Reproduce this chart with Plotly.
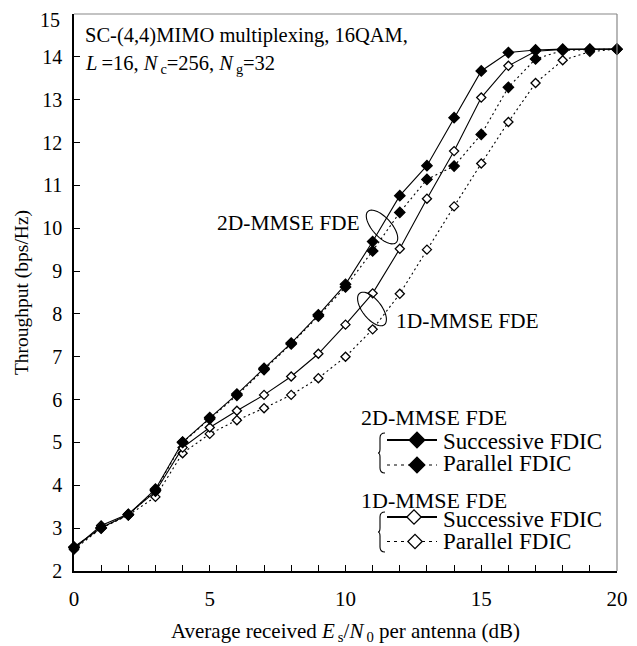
import numpy as np
import plotly.graph_objects as go

# ---------------- data ----------------
snr_db = list(range(0, 21))
thr_2d_successive = [2.56, 3.01, 3.32, 3.91, 5.01, 5.58, 6.13, 6.73, 7.32, 7.98, 8.69,
                     9.69, 10.76, 11.46, 12.58, 13.67, 14.10, 14.16, 14.18, 14.18, 14.18]
thr_2d_parallel = [2.55, 3.00, 3.31, 3.88, 5.00, 5.55, 6.10, 6.70, 7.30, 7.95, 8.63,
                   9.47, 10.37, 11.14, 11.45, 12.19, 13.29, 13.95, 14.15, 14.17, 14.18]
thr_1d_successive = [2.52, 3.06, 3.33, 3.85, 4.88, 5.35, 5.74, 6.11, 6.54, 7.07, 7.75,
                     8.48, 9.52, 10.69, 11.80, 13.05, 13.79, 14.13, 14.17, 14.18, 14.18]
thr_1d_parallel = [2.50, 3.00, 3.30, 3.73, 4.75, 5.20, 5.52, 5.80, 6.11, 6.50, 7.00,
                   7.64, 8.47, 9.50, 10.51, 11.51, 12.48, 13.39, 13.92, 14.12, 14.18]
x_ticks = [0, 5, 10, 15, 20]
y_ticks = list(range(2, 15))
y_top_tick = 15

FONT = "Liberation Serif"
OFF = 8  # page body margin of the HTML page
W, H = 637 - OFF, 646 - OFF
PX_L, PX_R, PX_T, PX_B = 74, 617, 14, 571  # plot area on the page
L, R, T, B = PX_L - OFF, 637 - PX_R, PX_T - OFF, 646 - PX_B


def to_paper(px, py):
    return (px - PX_L) / (PX_R - PX_L), (PX_B - py) / (PX_B - PX_T)


fig = go.Figure()

series = [
    (thr_1d_parallel, "1D Parallel", "white", "2px,3px", 7),
    (thr_1d_successive, "1D Successive", "white", "solid", 7),
    (thr_2d_parallel, "2D Parallel", "black", "2px,3px", 8),
    (thr_2d_successive, "2D Successive", "black", "solid", 8),
]
for ys, name, fill, dash, sz in series:
    fig.add_trace(go.Scatter(
        x=snr_db, y=ys, name=name, mode="lines+markers",
        line=dict(color="black", width=1.1, dash=dash),
        marker=dict(symbol="diamond", size=sz, color=fill,
                    line=dict(color="black", width=1.3)),
        cliponaxis=False, showlegend=False))

# legend samples (drawn on a page-pixel overlay axis)
leg_rows = [
    (440, "solid", "black", 417),
    (465, "3px,4px", "black", 417),
    (517, "solid", "white", 414),
    (541.5, "3px,4px", "white", 415),
]
for yy, dash, fill, mx in leg_rows:
    fig.add_trace(go.Scatter(
        x=[387, 437], y=[yy, yy], xaxis="x2", yaxis="y2", mode="lines",
        line=dict(color="black", width=1.8 if dash == "solid" else 1.2, dash=dash),
        showlegend=False, hoverinfo="skip"))
    fig.add_trace(go.Scatter(
        x=[mx], y=[yy], xaxis="x2", yaxis="y2", mode="markers",
        marker=dict(symbol="diamond", size=12 if fill == "black" else 11, color=fill,
                    line=dict(color="black", width=1.3)),
        showlegend=False, hoverinfo="skip"))

shapes = []
shapes.append(dict(type="line", xref="paper", yref="paper", x0=0, x1=1, y0=1, y1=1,
                   line=dict(color="#888", width=1.2)))
shapes.append(dict(type="line", xref="paper", yref="paper", x0=1, x1=1, y0=0, y1=1,
                   line=dict(color="#888", width=1.2)))


def ellipse_path(cx, cy, a, b, ang_deg, n=60):
    t = np.linspace(0, 2 * np.pi, n)
    ang = np.deg2rad(ang_deg)
    xs = cx + a * np.cos(t) * np.cos(ang) - b * np.sin(t) * np.sin(ang)
    ys = cy + a * np.cos(t) * np.sin(ang) + b * np.sin(t) * np.cos(ang)
    return "M " + " L ".join(f"{x:.2f},{y:.2f}" for x, y in zip(xs, ys)) + " Z"


shapes.append(dict(type="path", xref="x2", yref="y2", path=ellipse_path(382, 227, 21, 9.5, 48),
                   line=dict(color="black", width=1.1)))
shapes.append(dict(type="path", xref="x2", yref="y2", path=ellipse_path(372, 309, 20, 9.5, 52),
                   line=dict(color="black", width=1.1)))


def brace_path(x, y0, y1, ytip, w=7):
    xm = x - w + 2
    return (f"M {x},{y0} Q {xm},{y0} {xm},{y0+5} L {xm},{ytip-4} Q {xm},{ytip} {x-w},{ytip} "
            f"Q {xm},{ytip} {xm},{ytip+4} L {xm},{y1-5} Q {xm},{y1} {x},{y1}")


shapes.append(dict(type="path", xref="x2", yref="y2", path=brace_path(385, 433, 473, 453),
                   line=dict(color="black", width=1.1)))
shapes.append(dict(type="path", xref="x2", yref="y2", path=brace_path(385, 512, 552, 532),
                   line=dict(color="black", width=1.1)))

TS = "\u2009"
annotations = [
    dict(x=83, y=36, text="SC-(4,4)MIMO multiplexing, 16QAM,", xanchor="left", yanchor="middle",
         font=dict(size=20.5)),
    dict(x=83, y=64,
         text=f"<i>L</i>{TS}=16, <i>N</i><sub>{TS}c</sub>=256, <i>N</i><sub>{TS}g</sub>=32",
         xanchor="left", yanchor="middle", font=dict(size=20.5)),
    dict(x=362, y=223, text="2D-MMSE FDE", xanchor="right", yanchor="middle", font=dict(size=21.5)),
    dict(x=394, y=321, text="1D-MMSE FDE", xanchor="left", yanchor="middle", font=dict(size=21.5)),
    dict(x=359, y=418, text="2D-MMSE FDE", xanchor="left", yanchor="middle", font=dict(size=22)),
    dict(x=359, y=500, text="1D-MMSE FDE", xanchor="left", yanchor="middle", font=dict(size=22)),
    dict(x=61, y=19.5, text=str(y_top_tick), xanchor="right", yanchor="middle", font=dict(size=20),
         borderpad=0),
]
for yy, txt in [(441, "Successive FDIC"), (463, "Parallel FDIC"),
                (519, "Successive FDIC"), (541, "Parallel FDIC")]:
    annotations.append(dict(x=441, y=yy, text=txt, xanchor="left", yanchor="middle",
                            font=dict(size=23)))
for a in annotations:
    px_, py_ = to_paper(a["x"], a["y"])
    a.update(x=px_, y=py_, xref="paper", yref="paper", showarrow=False)
    a["font"] = dict(family=FONT, color="black", size=a["font"]["size"])

fig.update_layout(
    width=W, height=H,
    margin=dict(l=L, r=R, t=T, b=B, pad=0, autoexpand=False),
    paper_bgcolor="white", plot_bgcolor="white",
    font=dict(family=FONT, color="black", size=20),
    xaxis=dict(range=[0, 20], tickmode="array", tickvals=x_ticks, ticks="inside", ticklen=6,
               tickwidth=1, tickcolor="black", showline=True, linecolor="black", linewidth=1.5,
               showgrid=False, zeroline=False, tickfont=dict(size=21), automargin=False,
               ticklabelstandoff=8,
               minor=dict(dtick=1, ticks="inside", ticklen=6, tickcolor="black", tickwidth=1),
               title=dict(text=f"Average received <i>E</i><sub>{TS}s</sub>/<i>N</i><sub>{TS}0</sub> per antenna (dB)",
                          font=dict(size=21), standoff=13)),
    yaxis=dict(range=[2, 15], tickmode="array", tickvals=y_ticks, ticks="inside", ticklen=6,
               tickwidth=1, tickcolor="black", showline=True, linecolor="black", linewidth=1.5,
               showgrid=False, zeroline=False, tickfont=dict(size=20), automargin=False,
               ticklabelstandoff=6,
               title=dict(text="Throughput (bps/Hz)", font=dict(size=19.5), standoff=8)),
    xaxis2=dict(overlaying="x", range=[PX_L, PX_R], visible=False, fixedrange=True),
    yaxis2=dict(overlaying="y", range=[PX_B, PX_T], visible=False, fixedrange=True),
    shapes=shapes,
    annotations=annotations,
    showlegend=False,
)

fig.write_html("out.html")
